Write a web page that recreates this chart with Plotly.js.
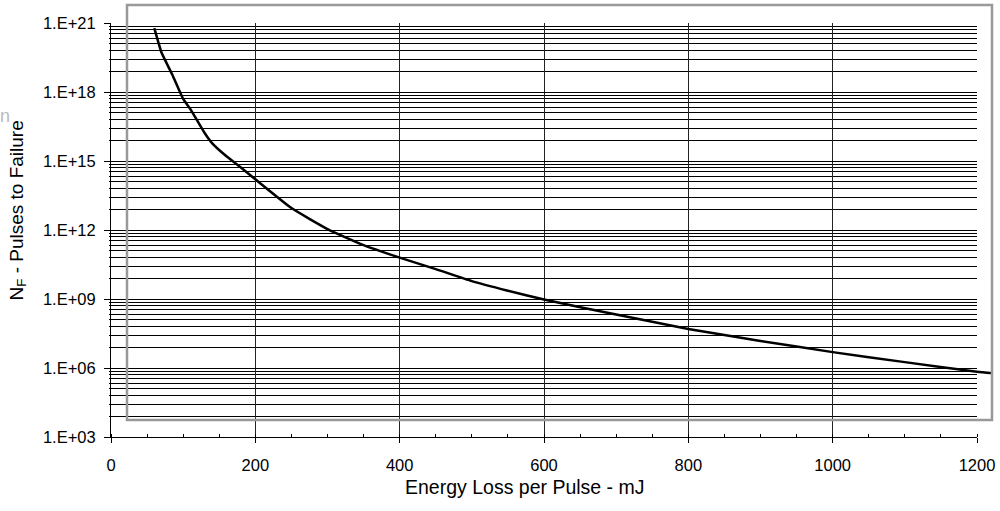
<!DOCTYPE html>
<html>
<head>
<meta charset="utf-8">
<script src="https://cdn.plot.ly/plotly-3.0.1.min.js"></script>
<style>html,body{margin:0;padding:0;background:#fff}#chart{width:1000px;height:511px}</style>
</head>
<body>
<div id="chart"></div>
<script>
// Energy loss per pulse (mJ)
const energy = [60, 70, 85, 100, 110, 130, 140, 160, 180, 200, 250, 300, 350, 400, 450, 500, 550, 600, 700, 800, 900, 1000, 1100, 1200, 1222];
// Pulses to failure N_F
const pulses = [6.0e20, 5.2e19, 5.6e18, 5.0e17, 1.8e17, 1.6e16, 6.0e15, 1.6e15, 5.2e14, 1.6e14, 9.0e12, 1.1e12, 2.2e11, 6.3e10, 2.0e10, 6.0e9, 2.3e9, 9.5e8, 2.1e8, 5.0e7, 1.5e7, 4.9e6, 1.8e6, 6.9e5, 5.9e5];
// Y tick labels (log axis, base 1000)
const yMajorVals = [1e3, 1e6, 1e9, 1e12, 1e15, 1e18, 1e21];
const yMajorText = ['1.E+03', '1.E+06', '1.E+09', '1.E+12', '1.E+15', '1.E+18', '1.E+21'];
const xTickVals = [0, 200, 400, 600, 800, 1000, 1200];
const xTitle = 'Energy Loss per Pulse - mJ';
const yTitle = 'N<sub>F</sub> - Pulses to Failure';

// minor grid of a base-1000 log axis: m * 1000^k  (m = 2..9 on the base-1000 scale -> m^3 in data units)
const yMinorVals = [];
for (let k = 1; k < 7; k++) for (let m = 2; m <= 9; m++) {
  yMinorVals.push(Math.pow(m, 3) * Math.pow(1000, k));
}

const W = 1000, H = 511, L = 111, R = 7, T = 23, B = 74;
const pw = W - L - R, ph = H - T - B;
const dom = (977 - L) / pw;
const xMax = 1200;
const xMax2 = xMax / dom;
const px = v => (v - L) / pw;
const py = v => (H - B - v) / ph;

const font = {family: 'Arial, "Liberation Sans", sans-serif', color: '#000'};

const data = [{
  x: energy, y: pulses, xaxis: 'x2', yaxis: 'y2', type: 'scatter', mode: 'lines',
  line: {color: '#000', width: 2.5, shape: 'spline', smoothing: 0.4}, hoverinfo: 'x+y'
}, {
  x: [0], y: [1e3], xaxis: 'x', yaxis: 'y', type: 'scatter', mode: 'markers',
  marker: {opacity: 0}, hoverinfo: 'skip', showlegend: false
}];

const layout = {
  width: W, height: H,
  margin: {l: L, r: R, t: T, b: B, pad: 0},
  paper_bgcolor: '#fff', plot_bgcolor: 'rgba(0,0,0,0)',
  showlegend: false,
  font: Object.assign({size: 16}, font),
  xaxis: {
    domain: [0, dom], range: [0, xMax], tickmode: 'array', tickvals: xTickVals,
    showgrid: true, gridcolor: '#222', gridwidth: 1, zeroline: false,
    showline: true, linecolor: '#000', linewidth: 1,
    ticks: 'outside', ticklen: 5, tickcolor: '#000', tickwidth: 1,
    ticklabelstandoff: 8,
    tickfont: Object.assign({size: 16.5}, font),
    minor: {tickmode: 'linear', tick0: 0, dtick: 50, ticks: 'inside', ticklen: 3, tickcolor: '#000', showgrid: false},
    anchor: 'y'
  },
  yaxis: {
    type: 'log', range: [3, 21], tickmode: 'array', tickvals: yMajorVals, ticktext: yMajorText,
    showgrid: true, gridcolor: '#000', gridwidth: 1, zeroline: false,
    showline: true, linecolor: '#000', linewidth: 1,
    ticks: 'outside', ticklen: 6, tickcolor: '#000', tickwidth: 1,
    ticklabelstandoff: 5,
    tickfont: Object.assign({size: 16.5}, font),
    minor: {tickmode: 'array', tickvals: yMinorVals, showgrid: true, gridcolor: '#000', gridwidth: 1, ticks: 'outside', ticklen: 1.5, tickcolor: '#000'},
    anchor: 'x'
  },
  xaxis2: {domain: [0, 1], range: [0, xMax2], visible: false, anchor: 'y2', fixedrange: true},
  yaxis2: {type: 'log', range: [3, 21], visible: false, anchor: 'x2', domain: [0, 1], fixedrange: true},
  shapes: [{
    type: 'rect', xref: 'paper', yref: 'paper',
    x0: px(127), x1: px(992), y0: py(420), y1: py(5),
    line: {color: '#999', width: 2.5}, fillcolor: 'rgba(0,0,0,0)', layer: 'above'
  }],
  annotations: [{
    text: xTitle, xref: 'paper', yref: 'paper', x: px(525), y: py(487),
    xanchor: 'center', yanchor: 'middle', showarrow: false,
    font: Object.assign({size: 19.5}, font)
  }, {
    text: yTitle, xref: 'paper', yref: 'paper', x: px(17.5), y: py(211),
    xanchor: 'center', yanchor: 'middle', showarrow: false, textangle: -90,
    font: Object.assign({size: 19}, font)
  }, {
    text: 'n', xref: 'paper', yref: 'paper', x: px(4.5), y: py(116),
    xanchor: 'center', yanchor: 'middle', showarrow: false,
    font: {family: font.family, size: 18, color: '#bbb'}
  }]
};

Plotly.newPlot('chart', data, layout, {displayModeBar: false, staticPlot: true});
</script>
</body>
</html>
